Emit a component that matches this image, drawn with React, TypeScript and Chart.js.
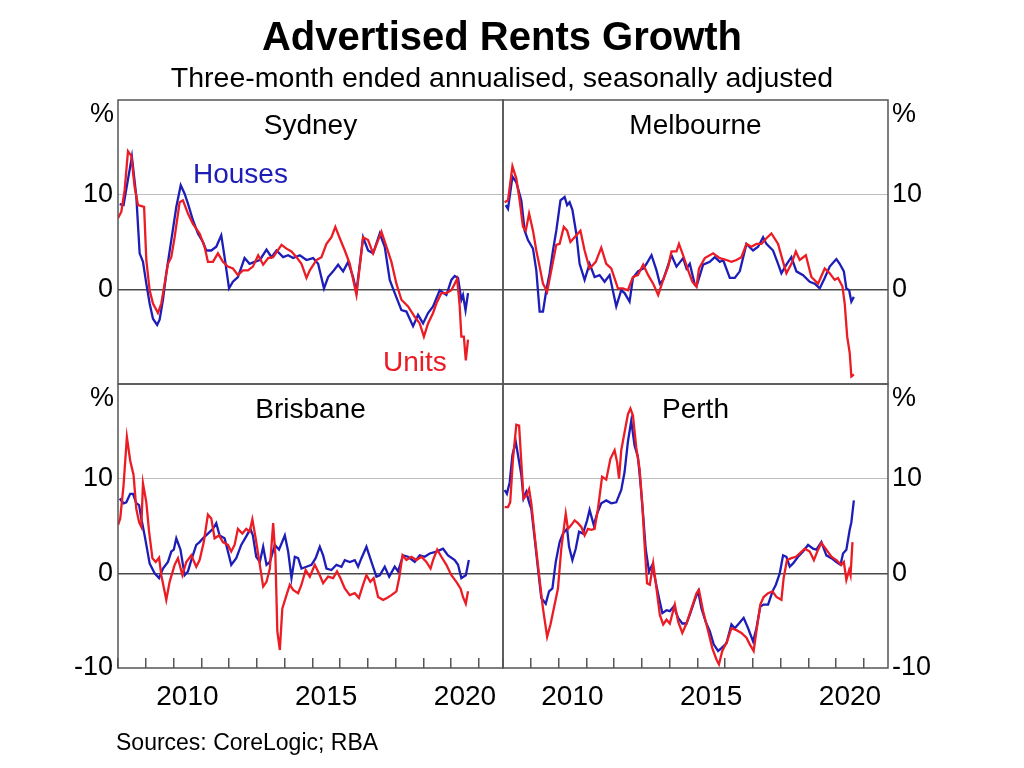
import React, { useEffect, useRef } from 'react';
import { Chart, registerables } from 'chart.js';

Chart.register(...registerables);

type Pt = [number, number];

// ---------- text ----------
const TITLE = 'Advertised Rents Growth';
const SUBTITLE = 'Three-month ended annualised, seasonally adjusted';
const SOURCE = 'Sources: CoreLogic; RBA';
const PANEL_NAMES = ['Sydney', 'Melbourne', 'Brisbane', 'Perth'];
const SERIES_NAMES = ['Houses', 'Units'];
const UNIT_LABEL = '%';

// ---------- axes ----------
const X_MIN = 2008;
const X_MAX = 2021.87;
const YEAR_TICKS = [2008, 2009, 2010, 2011, 2012, 2013, 2014, 2015, 2016, 2017, 2018, 2019, 2020, 2021];
const YEAR_LABELS = [2010, 2015, 2020];
const Y_MIN = -10;
const Y_MAX = 20;
const Y_TICKS = [-10, 0, 10, 20];

// ---------- data: [decimal year, per cent] ----------
const SYDNEY_HOUSES: Pt[] = [
  [2008.06, 9.0], [2008.2, 8.9], [2008.5, 14.0], [2008.66, 9.8], [2008.78, 3.8], [2008.9, 2.9],
  [2009.02, 0.6], [2009.14, -1.5], [2009.26, -3.1], [2009.41, -3.75], [2009.5, -3.2], [2009.62, -1.1],
  [2009.74, 1.7], [2009.92, 5.2], [2010.1, 8.7], [2010.26, 11.0], [2010.4, 10.1], [2010.52, 9.05],
  [2010.7, 7.3], [2010.88, 5.9], [2011.06, 5.0], [2011.18, 4.1], [2011.36, 4.1], [2011.54, 4.5],
  [2011.72, 5.7], [2011.84, 3.4], [2012.0, 0.1], [2012.14, 0.8], [2012.32, 1.3], [2012.56, 3.3],
  [2012.74, 2.7], [2012.92, 2.9], [2013.11, 3.1], [2013.35, 4.2], [2013.53, 3.4], [2013.71, 4.1],
  [2013.95, 3.4], [2014.13, 3.6], [2014.31, 3.3], [2014.55, 3.6], [2014.79, 3.1], [2015.03, 3.3],
  [2015.21, 2.7], [2015.42, 0.1], [2015.57, 1.3], [2015.75, 1.9], [2015.93, 2.6], [2016.11, 1.9],
  [2016.29, 2.9], [2016.47, 1.3], [2016.59, -0.25], [2016.83, 5.5], [2017.01, 4.1], [2017.19, 3.8],
  [2017.43, 5.9], [2017.61, 4.5], [2017.79, 1.0], [2017.97, -0.4], [2018.21, -2.2], [2018.39, -2.35],
  [2018.63, -3.9], [2018.81, -2.7], [2018.99, -3.6], [2019.17, -2.5], [2019.35, -1.8], [2019.59, -0.1],
  [2019.83, -0.6], [2020.01, 1.0], [2020.13, 1.4], [2020.25, 1.2], [2020.37, -1.1], [2020.43, -0.6],
  [2020.52, -2.2], [2020.61, -0.4],
];
const SYDNEY_UNITS: Pt[] = [
  [2008.0, 7.5], [2008.12, 8.2], [2008.24, 10.5], [2008.36, 14.6], [2008.48, 14.1], [2008.6, 10.8],
  [2008.72, 8.9], [2008.94, 8.7], [2009.02, 3.1], [2009.14, -0.1], [2009.26, -1.5], [2009.44, -2.5],
  [2009.56, -1.5], [2009.68, 0.6], [2009.8, 2.7], [2009.92, 3.4], [2010.04, 5.5], [2010.22, 9.2],
  [2010.34, 9.4], [2010.52, 8.0], [2010.7, 6.9], [2010.94, 5.9], [2011.12, 4.5], [2011.24, 2.9],
  [2011.42, 2.9], [2011.6, 3.8], [2011.78, 2.9], [2011.96, 2.4], [2012.14, 2.2], [2012.32, 1.5],
  [2012.5, 2.0], [2012.68, 2.0], [2012.86, 2.4], [2013.05, 3.6], [2013.23, 2.6], [2013.41, 3.3],
  [2013.59, 3.4], [2013.89, 4.7], [2014.07, 4.3], [2014.25, 4.0], [2014.43, 3.4], [2014.61, 2.7],
  [2014.79, 1.2], [2014.91, 2.0], [2015.15, 3.1], [2015.33, 3.4], [2015.51, 4.8], [2015.69, 5.5],
  [2015.83, 6.6], [2015.99, 5.4], [2016.17, 4.1], [2016.35, 2.7], [2016.59, -0.6], [2016.83, 5.5],
  [2017.01, 5.2], [2017.19, 3.8], [2017.49, 6.1], [2017.67, 4.5], [2017.85, 2.9], [2018.03, 0.6],
  [2018.21, -1.1], [2018.45, -1.8], [2018.69, -2.9], [2018.87, -3.6], [2019.02, -5.0], [2019.17, -3.6],
  [2019.35, -2.5], [2019.47, -1.5], [2019.65, -0.4], [2019.83, -0.4], [2020.01, -0.1], [2020.22, 1.1],
  [2020.31, -1.8], [2020.37, -5.0], [2020.46, -5.0], [2020.53, -7.5], [2020.61, -5.3],
];
const MELBOURNE_HOUSES: Pt[] = [
  [2008.1, 8.9], [2008.18, 8.5], [2008.34, 11.9], [2008.48, 11.3], [2008.66, 9.4], [2008.78, 6.2],
  [2008.9, 5.2], [2009.08, 4.3], [2009.2, 2.0], [2009.32, -2.35], [2009.44, -2.35], [2009.56, -0.1],
  [2009.68, 1.7], [2009.8, 4.1], [2009.92, 6.2], [2010.07, 9.4], [2010.22, 9.75], [2010.31, 8.9],
  [2010.4, 9.2], [2010.5, 8.4], [2010.64, 5.9], [2010.76, 2.7], [2010.94, 1.0], [2011.12, 2.7],
  [2011.3, 1.3], [2011.48, 1.5], [2011.66, 0.8], [2011.84, 1.5], [2012.08, -1.8], [2012.26, -0.1],
  [2012.38, -0.4], [2012.56, -1.3], [2012.68, 1.2], [2012.86, 1.9], [2013.05, 2.2], [2013.17, 2.7],
  [2013.35, 3.6], [2013.53, 2.0], [2013.65, 0.6], [2013.77, 1.0], [2014.07, 3.6], [2014.25, 2.4],
  [2014.49, 3.3], [2014.61, 2.2], [2014.73, 2.7], [2014.91, 0.5], [2014.97, 0.3], [2015.21, 2.6],
  [2015.45, 2.9], [2015.63, 3.4], [2015.81, 2.9], [2015.93, 3.1], [2016.17, 1.2], [2016.35, 1.2],
  [2016.53, 1.9], [2016.77, 4.8], [2017.01, 4.1], [2017.19, 4.5], [2017.37, 5.5], [2017.49, 4.8],
  [2017.73, 4.1], [2017.91, 2.7], [2018.03, 1.7], [2018.21, 2.6], [2018.39, 3.4], [2018.57, 1.9],
  [2018.81, 1.5], [2019.05, 0.8], [2019.23, 0.6], [2019.41, 0.1], [2019.59, 1.2], [2019.77, 2.4],
  [2020.01, 3.2], [2020.13, 2.7], [2020.28, 1.9], [2020.37, 0.1], [2020.47, -0.1], [2020.55, -1.3],
  [2020.64, -0.8],
];
const MELBOURNE_UNITS: Pt[] = [
  [2008.06, 9.2], [2008.18, 9.4], [2008.34, 13.0], [2008.48, 11.7], [2008.6, 9.4], [2008.72, 6.6],
  [2008.82, 6.2], [2008.94, 8.0], [2009.08, 6.2], [2009.2, 4.1], [2009.32, 2.4], [2009.44, 0.6],
  [2009.59, -0.25], [2009.74, 2.0], [2009.92, 4.7], [2010.04, 4.8], [2010.19, 6.6], [2010.31, 6.2],
  [2010.43, 5.0], [2010.58, 5.5], [2010.79, 6.2], [2010.94, 4.1], [2011.12, 2.2], [2011.34, 2.9],
  [2011.54, 4.4], [2011.72, 2.7], [2011.9, 2.2], [2012.14, 0.1], [2012.32, 0.1], [2012.5, -0.1],
  [2012.68, 1.3], [2012.86, 1.5], [2013.05, 2.6], [2013.23, 1.5], [2013.41, 0.6], [2013.59, -0.6],
  [2013.77, 1.0], [2013.95, 2.4], [2014.07, 4.0], [2014.25, 4.0], [2014.34, 4.8], [2014.49, 3.6],
  [2014.67, 2.0], [2014.82, 0.8], [2014.97, 0.3], [2015.06, 2.2], [2015.27, 3.3], [2015.57, 3.8],
  [2015.81, 3.3], [2016.05, 3.1], [2016.23, 2.9], [2016.41, 3.1], [2016.59, 3.4], [2016.77, 4.8],
  [2016.95, 4.5], [2017.13, 4.8], [2017.31, 4.8], [2017.49, 5.4], [2017.67, 5.9], [2017.91, 4.8],
  [2018.09, 2.9], [2018.21, 1.7], [2018.39, 2.7], [2018.55, 4.0], [2018.69, 3.1], [2018.91, 3.6],
  [2019.11, 1.3], [2019.35, 0.6], [2019.59, 2.2], [2019.77, 1.7], [2019.95, 1.0], [2020.07, 1.2],
  [2020.23, 0.3], [2020.31, -1.5], [2020.4, -5.0], [2020.49, -6.7], [2020.55, -9.2], [2020.64, -9.0],
];
const BRISBANE_HOUSES: Pt[] = [
  [2008.06, 7.9], [2008.2, 7.4], [2008.3, 7.5], [2008.44, 8.4], [2008.54, 8.4], [2008.66, 7.4],
  [2008.76, 7.2], [2008.84, 5.8], [2008.96, 4.0], [2009.14, 1.05], [2009.32, 0.0], [2009.48, -0.5],
  [2009.62, 0.5], [2009.8, 1.2], [2009.92, 2.3], [2010.01, 2.5], [2010.1, 3.7], [2010.25, 2.5],
  [2010.4, -0.2], [2010.52, 0.2], [2010.64, 1.4], [2010.82, 3.0], [2010.94, 3.3], [2011.06, 3.7],
  [2011.24, 4.2], [2011.42, 4.7], [2011.54, 5.3], [2011.66, 4.0], [2011.84, 3.7], [2011.96, 2.3],
  [2012.08, 0.9], [2012.26, 1.6], [2012.44, 3.0], [2012.62, 3.9], [2012.77, 4.7], [2012.86, 4.0],
  [2012.98, 1.75], [2013.11, 1.2], [2013.23, 2.8], [2013.35, 0.9], [2013.47, 1.2], [2013.65, 3.0],
  [2013.8, 2.5], [2014.01, 4.0], [2014.13, 2.3], [2014.25, -0.5], [2014.37, 1.75], [2014.49, 1.6],
  [2014.61, 0.5], [2014.79, 0.7], [2014.97, 0.9], [2015.12, 1.6], [2015.27, 2.8], [2015.39, 1.9],
  [2015.51, 0.5], [2015.69, 0.35], [2015.87, 0.9], [2016.05, 0.7], [2016.17, 1.4], [2016.35, 1.2],
  [2016.53, 1.4], [2016.65, 0.7], [2016.77, 1.6], [2016.95, 2.8], [2017.13, 1.2], [2017.31, -0.35],
  [2017.43, -0.2], [2017.61, 0.7], [2017.77, -0.35], [2017.97, 0.7], [2018.09, 0.2], [2018.27, 1.9],
  [2018.45, 1.75], [2018.69, 1.2], [2018.87, 1.9], [2019.05, 1.75], [2019.23, 2.1], [2019.47, 2.3],
  [2019.71, 2.6], [2019.89, 1.9], [2020.13, 1.4], [2020.25, 0.9], [2020.37, -0.5], [2020.53, -0.2],
  [2020.64, 1.4],
];
const BRISBANE_UNITS: Pt[] = [
  [2008.0, 5.1], [2008.08, 5.8], [2008.2, 9.3], [2008.32, 14.4], [2008.44, 11.9], [2008.56, 10.4],
  [2008.66, 6.8], [2008.76, 5.4], [2008.84, 4.9], [2008.9, 9.5], [2009.02, 7.5], [2009.12, 4.4],
  [2009.24, 1.6], [2009.36, 1.2], [2009.48, 1.65], [2009.56, -0.2], [2009.74, -2.8], [2009.86, -0.9],
  [2010.04, 0.9], [2010.16, 1.6], [2010.32, -0.2], [2010.46, 1.2], [2010.64, 1.9], [2010.82, 0.7],
  [2010.94, 1.4], [2011.09, 3.3], [2011.24, 6.2], [2011.36, 5.8], [2011.48, 3.7], [2011.64, 4.0],
  [2011.78, 3.3], [2011.96, 3.0], [2012.08, 2.3], [2012.2, 3.0], [2012.32, 4.7], [2012.48, 4.2],
  [2012.62, 4.7], [2012.74, 4.4], [2012.84, 5.7], [2012.96, 3.7], [2013.11, 0.9], [2013.23, -1.4],
  [2013.35, -0.9], [2013.47, 0.5], [2013.59, 5.3], [2013.67, 1.9], [2013.74, -6.1], [2013.83, -8.1],
  [2013.92, -3.7], [2014.07, -2.3], [2014.19, -1.2], [2014.31, -1.75], [2014.49, -2.1], [2014.61, -1.2],
  [2014.76, 0.35], [2014.91, -0.35], [2015.09, 0.9], [2015.27, -0.2], [2015.39, -1.05], [2015.57, -0.35],
  [2015.75, -0.5], [2015.89, 0.2], [2016.01, -0.5], [2016.17, -1.6], [2016.35, -2.3], [2016.53, -2.1],
  [2016.68, -2.6], [2016.83, -1.2], [2016.95, -0.2], [2017.09, -0.9], [2017.21, -0.5], [2017.37, -2.5],
  [2017.55, -2.8], [2017.69, -2.6], [2017.85, -2.3], [2018.03, -1.9], [2018.13, -0.5], [2018.25, 1.9],
  [2018.39, 1.4], [2018.57, 1.75], [2018.75, 1.4], [2018.93, 1.75], [2019.11, 1.2], [2019.26, 0.5],
  [2019.35, 1.4], [2019.5, 2.5], [2019.65, 1.75], [2019.83, 0.9], [2020.01, -0.2], [2020.19, -0.9],
  [2020.34, -1.6], [2020.43, -2.5], [2020.53, -3.2], [2020.61, -1.9],
];
const PERTH_HOUSES: Pt[] = [
  [2008.06, 8.8], [2008.14, 8.4], [2008.24, 9.6], [2008.34, 12.5], [2008.46, 13.9], [2008.54, 12.5],
  [2008.66, 10.4], [2008.74, 7.9], [2008.84, 8.6], [2008.94, 7.5], [2009.02, 6.8], [2009.14, 3.7],
  [2009.26, 0.5], [2009.38, -2.6], [2009.54, -3.2], [2009.66, -1.9], [2009.78, -1.6], [2009.9, 1.2],
  [2010.04, 3.3], [2010.16, 4.2], [2010.31, 4.7], [2010.38, 2.8], [2010.5, 1.4], [2010.62, 2.6],
  [2010.74, 4.4], [2010.88, 4.2], [2011.03, 5.6], [2011.12, 6.7], [2011.27, 5.1], [2011.39, 6.3],
  [2011.54, 7.4], [2011.72, 7.7], [2011.9, 7.4], [2012.08, 7.5], [2012.26, 8.8], [2012.38, 10.7],
  [2012.5, 13.9], [2012.62, 16.1], [2012.74, 13.5], [2012.86, 12.3], [2012.95, 9.6], [2013.05, 6.1],
  [2013.14, 2.6], [2013.26, 0.2], [2013.38, 0.9], [2013.5, -0.9], [2013.62, -2.6], [2013.74, -4.2],
  [2013.89, -3.9], [2014.01, -4.0], [2014.15, -3.5], [2014.31, -4.7], [2014.46, -5.3], [2014.61, -5.3],
  [2014.75, -4.2], [2014.91, -2.8], [2015.03, -1.9], [2015.15, -3.7], [2015.3, -5.1], [2015.45, -6.1],
  [2015.59, -7.5], [2015.75, -8.2], [2015.87, -7.9], [2016.05, -7.4], [2016.23, -5.4], [2016.35, -5.8],
  [2016.5, -5.3], [2016.67, -4.7], [2016.83, -5.8], [2017.01, -7.2], [2017.13, -5.8], [2017.27, -3.5],
  [2017.39, -3.3], [2017.55, -3.3], [2017.71, -1.9], [2017.83, -1.2], [2017.97, 0.0], [2018.09, 1.9],
  [2018.21, 1.75], [2018.33, 0.7], [2018.45, 1.05], [2018.63, 1.75], [2018.81, 2.3], [2018.99, 3.0],
  [2019.17, 2.6], [2019.29, 2.5], [2019.47, 3.3], [2019.65, 1.9], [2019.83, 1.6], [2020.01, 1.2],
  [2020.16, 0.9], [2020.25, 2.1], [2020.37, 2.5], [2020.49, 4.6], [2020.55, 5.4], [2020.64, 7.7],
];
const PERTH_UNITS: Pt[] = [
  [2008.06, 7.0], [2008.18, 7.0], [2008.26, 7.5], [2008.36, 12.1], [2008.48, 15.7], [2008.58, 15.6],
  [2008.66, 11.75], [2008.74, 7.9], [2008.84, 8.2], [2008.94, 8.9], [2009.02, 7.4], [2009.14, 4.0],
  [2009.3, -0.2], [2009.44, -3.7], [2009.59, -6.7], [2009.71, -5.4], [2009.86, -3.3], [2009.98, -1.6],
  [2010.1, 2.6], [2010.26, 6.3], [2010.34, 4.7], [2010.46, 5.1], [2010.58, 5.6], [2010.7, 5.3],
  [2010.82, 4.9], [2010.94, 4.0], [2011.06, 4.7], [2011.18, 4.6], [2011.3, 4.7], [2011.42, 6.8],
  [2011.57, 10.2], [2011.72, 9.9], [2011.87, 12.1], [2012.02, 13.0], [2012.11, 11.75], [2012.18, 10.0],
  [2012.26, 13.0], [2012.38, 14.9], [2012.5, 16.8], [2012.59, 17.4], [2012.68, 16.7], [2012.8, 13.3],
  [2012.92, 11.05], [2013.02, 7.2], [2013.11, 2.6], [2013.19, -1.05], [2013.29, -1.2], [2013.41, 1.05],
  [2013.53, -1.6], [2013.65, -4.4], [2013.77, -5.4], [2013.89, -4.9], [2014.01, -5.3], [2014.19, -3.3],
  [2014.31, -5.1], [2014.46, -6.3], [2014.61, -5.3], [2014.79, -3.7], [2014.97, -2.1], [2015.06, -1.75],
  [2015.21, -4.0], [2015.39, -6.1], [2015.54, -7.9], [2015.69, -9.1], [2015.78, -9.6], [2015.9, -8.2],
  [2016.07, -7.2], [2016.23, -5.8], [2016.41, -6.0], [2016.59, -6.3], [2016.77, -6.8], [2016.89, -7.5],
  [2017.03, -8.2], [2017.13, -6.1], [2017.27, -3.3], [2017.39, -2.5], [2017.55, -2.1], [2017.71, -1.9],
  [2017.85, -2.5], [2018.03, -2.8], [2018.11, -0.5], [2018.23, 1.4], [2018.39, 1.6], [2018.55, 1.75],
  [2018.69, 2.1], [2018.87, 2.6], [2019.05, 2.3], [2019.2, 1.4], [2019.35, 2.5], [2019.47, 3.2],
  [2019.65, 2.5], [2019.83, 1.75], [2020.01, 1.4], [2020.19, 0.9], [2020.28, 1.2], [2020.37, -0.7],
  [2020.47, 0.35], [2020.52, -0.2], [2020.59, 3.3],
];

// ---------- styling / layout ----------
const FONT = "'Liberation Sans', Arial, Helvetica, sans-serif";
const BLUE = '#1d1db8';
const RED = '#ec1c24';
const FRAME_COLOR = '#555555';
const ZERO_COLOR = '#4a4a4a';
const GRID_COLOR = '#bdbdbd';
const W = 1024;
const H = 768;
const BOX = { left: 118, mid: 503, right: 888, top: 100, middle: 384, bottom: 668 };
const Y_AXIS_W = 60;
const X_AXIS_H = 50;

const framePlugin = {
  id: 'panelFrame',
  afterDatasetsDraw(chart: any) {
    const { ctx, chartArea: a } = chart;
    ctx.save();
    ctx.strokeStyle = FRAME_COLOR;
    ctx.lineWidth = 1.5;
    ctx.strokeRect(a.left, a.top, a.right - a.left, a.bottom - a.top);
    ctx.restore();
  },
};

type PanelProps = { houses: Pt[]; units: Pt[]; col: number; row: number };

function Panel({ houses, units, col, row }: PanelProps) {
  const ref = useRef<HTMLCanvasElement | null>(null);
  useEffect(() => {
    const canvas = ref.current;
    if (!canvas) return;
    const left = col === 0 ? BOX.left : BOX.mid;
    const right = col === 0 ? BOX.mid : BOX.right;
    const top = row === 0 ? BOX.top : BOX.middle;
    const bottom = row === 0 ? BOX.middle : BOX.bottom;
    const showX = row === 1;
    const halfYear = (right - left) / (X_MAX - X_MIN) / 2;
    const chart = new Chart(canvas, {
      type: 'line',
      data: {
        datasets: [
          {
            label: SERIES_NAMES[1],
            data: units.map(([x, y]) => ({ x, y })),
            borderColor: RED,
            borderWidth: 2.3,
            pointRadius: 0,
            tension: 0,
            fill: false,
          },
          {
            label: SERIES_NAMES[0],
            data: houses.map(([x, y]) => ({ x, y })),
            borderColor: BLUE,
            borderWidth: 2.3,
            pointRadius: 0,
            tension: 0,
            fill: false,
          },
        ],
      },
      options: {
        responsive: false,
        animation: false,
        devicePixelRatio: 1,
        events: [],
        layout: {
          padding: {
            left: col === 0 ? left - Y_AXIS_W : left,
            right: col === 0 ? W - right : W - right - Y_AXIS_W,
            top,
            bottom: showX ? H - bottom - X_AXIS_H : H - bottom,
          },
        },
        plugins: {
          legend: { display: false },
          tooltip: { enabled: false },
          title: { display: false },
        },
        scales: {
          x: {
            type: 'linear',
            min: X_MIN,
            max: X_MAX,
            display: showX,
            afterBuildTicks: (axis: any) => {
              axis.ticks = YEAR_TICKS.map((v) => ({ value: v }));
            },
            afterFit: (axis: any) => {
              axis.height = showX ? X_AXIS_H : 0;
            },
            grid: {
              drawOnChartArea: false,
              drawTicks: true,
              tickLength: -10,
              color: FRAME_COLOR,
              lineWidth: 1.5,
            },
            border: { display: false },
            ticks: {
              autoSkip: false,
              maxRotation: 0,
              minRotation: 0,
              padding: 22,
              labelOffset: halfYear,
              color: '#000',
              font: { family: FONT, size: 28 },
              callback: (v: any) => (YEAR_LABELS.includes(Number(v)) ? String(v) : ''),
            },
          },
          y: {
            type: 'linear',
            position: col === 0 ? 'left' : 'right',
            min: Y_MIN,
            max: Y_MAX,
            afterBuildTicks: (axis: any) => {
              axis.ticks = Y_TICKS.map((v) => ({ value: v }));
            },
            afterFit: (axis: any) => {
              axis.width = Y_AXIS_W;
            },
            grid: {
              drawTicks: false,
              color: (ctx: any) => {
                const v = ctx.tick ? ctx.tick.value : null;
                if (v === 0) return ZERO_COLOR;
                if (v === 10) return GRID_COLOR;
                return 'rgba(0,0,0,0)';
              },
              lineWidth: (ctx: any) => (ctx.tick && ctx.tick.value === 0 ? 1.5 : 1),
            },
            border: { display: false },
            ticks: {
              padding: col === 0 ? 5 : 4,
              color: '#000',
              font: { family: FONT, size: 27 },
              callback: (v: any) => {
                const n = Number(v);
                if (row === 0) return n === 0 || n === 10 ? String(n) : '';
                return n === 20 ? '' : String(n);
              },
            },
          },
        },
      } as any,
      plugins: [framePlugin],
    });
    return () => chart.destroy();
  }, [houses, units, col, row]);
  return <canvas ref={ref} width={W} height={H} style={{ position: 'absolute', left: 0, top: 0 }} />;
}

type LabelProps = {
  text: string;
  x: number;
  baseline: number;
  size: number;
  bold?: boolean;
  color?: string;
  align?: 'left' | 'center' | 'right';
};

function Label({ text, x, baseline, size, bold = false, color = '#000', align = 'left' }: LabelProps) {
  const shift = align === 'center' ? 'translateX(-50%)' : align === 'right' ? 'translateX(-100%)' : undefined;
  return (
    <div
      style={{
        position: 'absolute',
        left: x,
        top: baseline - 0.8466 * size,
        fontSize: size,
        lineHeight: `${size}px`,
        fontFamily: FONT,
        fontWeight: bold ? 700 : 400,
        color,
        whiteSpace: 'nowrap',
        transform: shift,
      }}
    >
      {text}
    </div>
  );
}

export default function App() {
  useEffect(() => {
    document.body.style.margin = '0';
  }, []);
  const leftC = (BOX.left + BOX.mid) / 2;
  const rightC = (BOX.mid + BOX.right) / 2;
  return (
    <div style={{ position: 'absolute', left: 0, top: 0, width: W, height: H, background: '#fff', overflow: 'hidden' }}>
      <Panel houses={SYDNEY_HOUSES} units={SYDNEY_UNITS} col={0} row={0} />
      <Panel houses={MELBOURNE_HOUSES} units={MELBOURNE_UNITS} col={1} row={0} />
      <Panel houses={BRISBANE_HOUSES} units={BRISBANE_UNITS} col={0} row={1} />
      <Panel houses={PERTH_HOUSES} units={PERTH_UNITS} col={1} row={1} />

      <Label text={TITLE} x={502} baseline={50} size={40} bold align="center" />
      <Label text={SUBTITLE} x={502} baseline={87} size={28.5} align="center" />

      <Label text={PANEL_NAMES[0]} x={leftC} baseline={BOX.top + 35} size={28} align="center" />
      <Label text={PANEL_NAMES[1]} x={rightC} baseline={BOX.top + 35} size={28} align="center" />
      <Label text={PANEL_NAMES[2]} x={leftC} baseline={BOX.middle + 35} size={28} align="center" />
      <Label text={PANEL_NAMES[3]} x={rightC} baseline={BOX.middle + 35} size={28} align="center" />

      <Label text={UNIT_LABEL} x={114} baseline={BOX.top + 23} size={27} align="right" />
      <Label text={UNIT_LABEL} x={114} baseline={BOX.middle + 23} size={27} align="right" />
      <Label text={UNIT_LABEL} x={892} baseline={BOX.top + 23} size={27} />
      <Label text={UNIT_LABEL} x={892} baseline={BOX.middle + 23} size={27} />

      <Label text={SERIES_NAMES[0]} x={193} baseline={184} size={28} color={BLUE} />
      <Label text={SERIES_NAMES[1]} x={383} baseline={372} size={28} color={RED} />

      <Label text={SOURCE} x={116} baseline={750} size={23} />
    </div>
  );
}
